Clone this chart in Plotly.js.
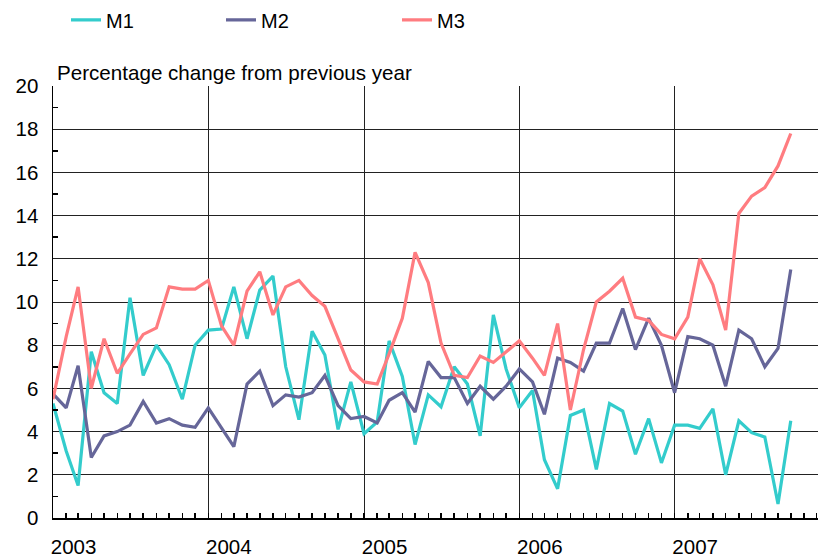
<!DOCTYPE html>
<html>
<head>
<meta charset="utf-8">
<script src="https://cdn.plot.ly/plotly-3.0.1.min.js"></script>
<style>
  html, body { margin: 0; padding: 0; background: #ffffff; }
  #chart { width: 818px; height: 559px; }
</style>
</head>
<body>
<div id="chart"></div>
<script>
// Months (x categories)
const months = [
  '2003-01','2003-02','2003-03','2003-04','2003-05','2003-06','2003-07','2003-08','2003-09','2003-10','2003-11','2003-12',
  '2004-01','2004-02','2004-03','2004-04','2004-05','2004-06','2004-07','2004-08','2004-09','2004-10','2004-11','2004-12',
  '2005-01','2005-02','2005-03','2005-04','2005-05','2005-06','2005-07','2005-08','2005-09','2005-10','2005-11','2005-12',
  '2006-01','2006-02','2006-03','2006-04','2006-05','2006-06','2006-07','2006-08','2006-09','2006-10','2006-11','2006-12',
  '2007-01','2007-02','2007-03','2007-04','2007-05','2007-06','2007-07','2007-08','2007-09','2007-10'
];

// Series values: percentage change from previous year
const m1 = [
  5.3, 3.1, 1.5, 7.7, 5.8, 5.3, 10.2, 6.6, 8.0, 7.1, 5.5, 8.0,
  8.7, 8.75, 10.7, 8.3, 10.55, 11.2, 7.0, 4.55, 8.65, 7.55, 4.1, 6.3,
  3.9, 4.45, 8.2, 6.55, 3.4, 5.7, 5.15, 7.0, 6.2, 3.8, 9.4, 6.9,
  5.1, 5.9, 2.7, 1.35, 4.75, 5.0, 2.25, 5.3, 4.95, 2.95, 4.6, 2.55,
  4.3, 4.3, 4.15, 5.05, 2.0, 4.5, 3.95, 3.75, 0.65, 4.5
];
const m2 = [
  5.75, 5.1, 7.05, 2.8, 3.8, 4.0, 4.3, 5.4, 4.4, 4.6, 4.3, 4.2,
  5.1, 4.2, 3.3, 6.2, 6.8, 5.2, 5.7, 5.6, 5.8, 6.6, 5.2, 4.6,
  4.7, 4.4, 5.45, 5.8, 4.9, 7.25, 6.5, 6.5, 5.3, 6.1, 5.5, 6.1,
  6.9, 6.3, 4.8, 7.4, 7.2, 6.8, 8.1, 8.1, 9.7, 7.8, 9.25, 8.0,
  5.8, 8.4, 8.3, 8.0, 6.1, 8.7, 8.3, 7.0, 7.85, 11.5
];
const m3 = [
  5.5, 8.4, 10.7, 6.0, 8.3, 6.7, 7.6, 8.5, 8.8, 10.7, 10.6, 10.6,
  11.0, 8.9, 8.0, 10.5, 11.4, 9.4, 10.7, 11.0, 10.3, 9.8, 8.3, 6.85,
  6.3, 6.2, 7.6, 9.25, 12.3, 10.9, 8.1, 6.6, 6.5, 7.5, 7.2, 7.7,
  8.2, 7.4, 6.6, 9.0, 5.0, 7.8, 10.0, 10.5, 11.1, 9.3, 9.15, 8.5,
  8.3, 9.3, 12.0, 10.8, 8.7, 14.1, 14.9, 15.3, 16.3, 17.8
];

const seriesNames = ['M1', 'M2', 'M3'];
const seriesColors = ['#33CCCC', '#666699', '#FF7C80'];
const yTitle = 'Percentage change from previous year';

const FONT = 'Liberation Sans, Arial, Helvetica, sans-serif';
const legendIds = ['legend', 'legend2', 'legend3'];

const traces = [m1, m2, m3].map((vals, k) => ({
  type: 'scatter',
  mode: 'lines',
  name: seriesNames[k],
  legend: legendIds[k],
  x: months,
  y: vals,
  line: { color: seriesColors[k], width: 3.2, shape: 'linear' },
  hoverinfo: 'skip'
}));

// plot area geometry helper: paper x from pixel x
const PL = 53, PW = 818 - 53;
function px2paper(px) { return (px - PL) / PW; }

function legendAt(px) {
  return {
    orientation: 'h',
    x: px2paper(px),
    xanchor: 'left',
    y: 1.153,
    yanchor: 'middle',
    itemwidth: 30,
    font: { family: FONT, size: 20, color: '#000000' },
    bgcolor: 'rgba(0,0,0,0)',
    borderwidth: 0
  };
}

const layout = {
  width: 818,
  height: 559,
  margin: { l: 53, r: 0, t: 86, b: 41, pad: 0 },
  paper_bgcolor: '#ffffff',
  plot_bgcolor: '#ffffff',
  font: { family: FONT, size: 20, color: '#000000' },
  showlegend: true,
  legend: legendAt(66),
  legend2: legendAt(221),
  legend3: legendAt(397),
  xaxis: {
    type: 'date',
    range: ['2003-01-01', '2007-12-04'],
    dtick: 'M12',
    tick0: '2003-01-01',
    tickformat: '%Y',
    ticks: 'inside',
    ticklen: 5,
    tickwidth: 1.5,
    tickcolor: '#000000',
    ticklabelposition: 'outside right',
    ticklabelstandoff: 9,
    ticklabelshift: -4,
    showgrid: true,
    gridcolor: '#222222',
    gridwidth: 1,
    showline: true,
    linecolor: '#000000',
    linewidth: 2,
    zeroline: false,
    minor: {
      dtick: 'M1',
      ticks: 'inside',
      ticklen: 5,
      tickwidth: 1.5,
      tickcolor: '#000000',
      showgrid: false
    },
    tickfont: { family: FONT, size: 20.5, color: '#000000' },
    fixedrange: true
  },
  yaxis: {
    range: [0, 20],
    dtick: 2,
    tick0: 0,
    ticks: '',
    showgrid: true,
    gridcolor: '#222222',
    gridwidth: 1,
    showline: true,
    linecolor: '#000000',
    linewidth: 1.5,
    zeroline: false,
    ticklabelstandoff: 9,
    minor: {
      dtick: 1,
      ticks: 'inside',
      ticklen: 5,
      tickwidth: 1.5,
      tickcolor: '#000000',
      showgrid: false
    },
    tickfont: { family: FONT, size: 20.5, color: '#000000' },
    fixedrange: true
  },
  annotations: [{
    text: yTitle,
    xref: 'paper', yref: 'paper',
    x: 0, y: 1,
    xanchor: 'left', yanchor: 'bottom',
    xshift: 2, yshift: 0,
    showarrow: false,
    font: { family: FONT, size: 20.6, color: '#000000' }
  }],
  hovermode: false
};

Plotly.newPlot('chart', traces, layout, { displayModeBar: false, staticPlot: true });
</script>
</body>
</html>
